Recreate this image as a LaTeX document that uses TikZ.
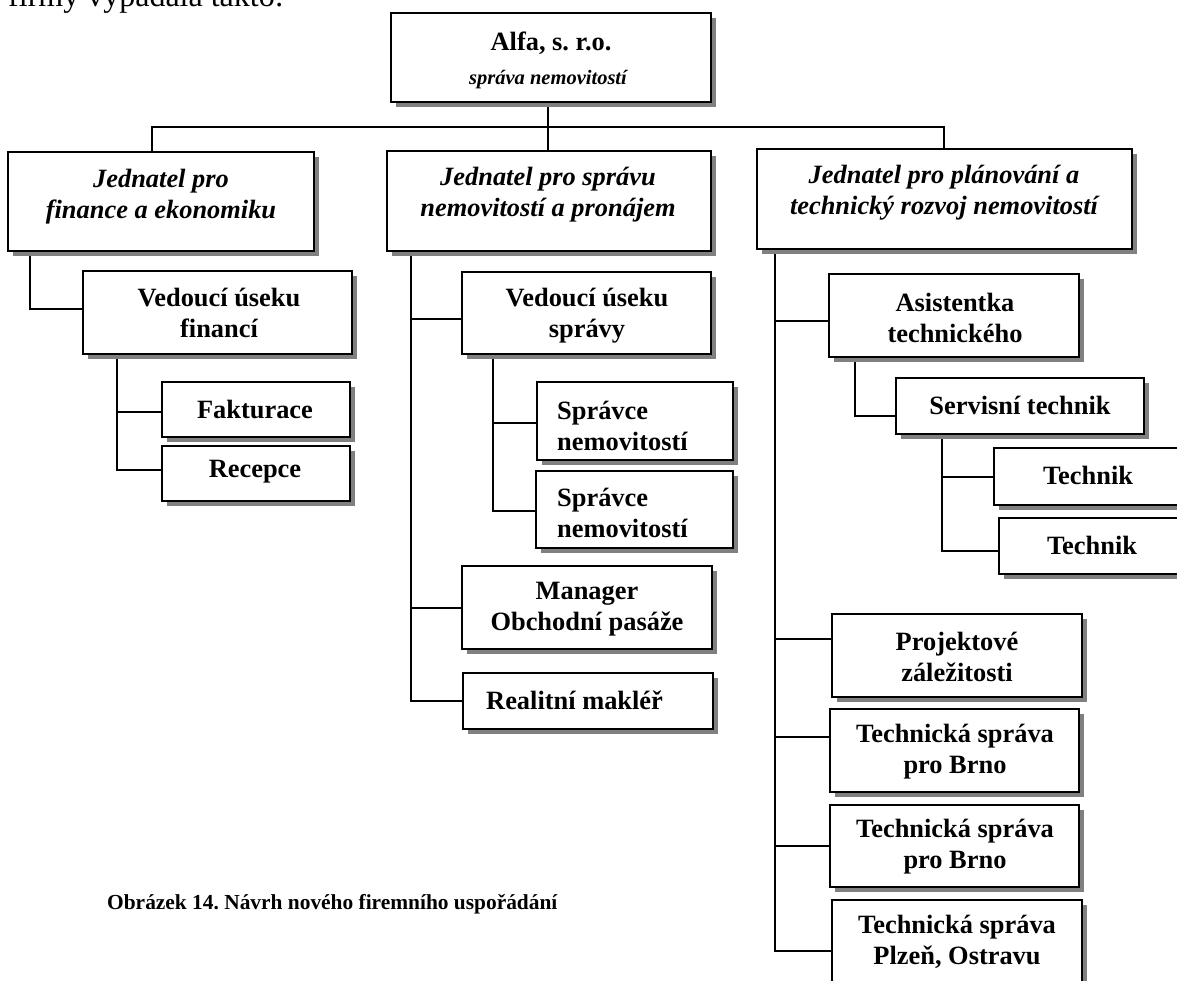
\documentclass[tikz,border=0pt]{standalone}
\usepackage{fontspec}
\setmainfont{Liberation Serif}
\usetikzlibrary{shadows}
\pgfdeclarelayer{bg}
\pgfsetlayers{bg,main}
\tikzset{
  box/.style={draw=black, line width=2pt, fill=white, rectangle, inner sep=0pt,
    general shadow={fill=black!50, shadow xshift=5pt, shadow yshift=-5pt}},
  txt/.style={inner sep=0pt, align=center, font=\fontsize{26.4}{31}\selectfont\bfseries},
  itxt/.style={inner sep=0pt, align=center, font=\fontsize{26.4}{31}\selectfont\bfseries\itshape},
  ltxt/.style={inner sep=0pt, align=left, anchor=west, font=\fontsize{26.4}{31}\selectfont\bfseries},
  link/.style={draw=black, line width=2pt},
}
\newcommand\orgbox[5]{\node[box, minimum width={(#4)-(#2)}, minimum height={(#5)-(#3)}] (#1) at ({((#2)+(#4))/2},{((#3)+(#5))/2}) {};}
\begin{document}
\frenchspacing
\begin{tikzpicture}[x=1pt,y=-1pt]
\useasboundingbox (0,0) rectangle (1177,981);
\node[anchor=base west, inner sep=0pt, font=\fontsize{32}{38}\selectfont] (intro) at (8,7) {firmy vypadala takto:};

% boxes
\orgbox{alfa}{391}{13}{711}{102}
\node[txt] (alfa-t1) at (551,43) {Alfa, s. r.o.};
\node[inner sep=0pt, font=\fontsize{20.5}{24}\selectfont\bfseries\itshape] (alfa-t2) at (548,80) {správa nemovitostí};

\orgbox{j1}{8}{152}{314}{251}
\node[itxt] (j1-t) at (161,197) {Jednatel pro\\finance a ekonomiku};
\orgbox{j2}{387}{151}{711}{251}
\node[itxt] (j2-t) at (548,195) {Jednatel pro správu\\nemovitostí a pronájem};
\orgbox{j3}{757}{149}{1132}{249}
\node[itxt] (j3-t) at (944,192.5) {Jednatel pro plánování a\\technický rozvoj nemovitostí};

\orgbox{vf}{83}{271}{352}{354}
\node[txt] (vf-t) at (219,312.5) {Vedoucí úseku\\financí};
\orgbox{fakt}{162}{382}{350}{437}
\node[txt] (fakt-t) at (255,410) {Fakturace};
\orgbox{rec}{162}{446}{350}{501}
\node[txt] (rec-t) at (255,472) {Recepce};

\orgbox{vs}{462}{272}{711}{354}
\node[txt] (vs-t) at (587,315.5) {Vedoucí úseku\\správy};
\orgbox{sn1}{537}{382}{733}{460}
\node[ltxt] (sn1-t) at (557,425.5) {Správce\\nemovitostí};
\orgbox{sn2}{536}{471}{733}{548}
\node[ltxt] (sn2-t) at (557,513) {Správce\\nemovitostí};
\orgbox{man}{462}{566}{712}{649}
\node[txt] (man-t) at (587,609) {Manager\\Obchodní pasáže};
\orgbox{real}{463}{673}{713}{729}
\node[ltxt] (real-t) at (486,700) {Realitní makléř};

\orgbox{at}{829}{274}{1079}{357}
\node[txt] (at-t) at (955,317.5) {Asistentka\\technického};
\orgbox{st}{896}{378}{1144}{434}
\node[txt] (st-t) at (1020,405) {Servisní technik};
\orgbox{t1}{994}{448}{1181}{505}
\node[txt] (t1-t) at (1088,475) {Technik};
\orgbox{t2}{999}{518}{1185}{574}
\node[txt] (t2-t) at (1092,545) {Technik};
\orgbox{proj}{832}{614}{1082}{697}
\node[txt] (proj-t) at (957,657) {Projektové\\záležitosti};
\orgbox{tsb1}{830}{709}{1079}{792}
\node[txt] (tsb1-t) at (955,751.5) {Technická správa\\pro Brno};
\orgbox{tsb2}{830}{805}{1079}{887}
\node[txt] (tsb2-t) at (955,847) {Technická správa\\pro Brno};
\orgbox{tsp}{832}{900}{1082}{985}
\node[txt] (tsp-t) at (957,942) {Technická správa\\Plzeň, Ostravu};

\node[anchor=base west, inner sep=0pt, font=\fontsize{21.4}{26}\selectfont\bfseries] (cap) at (107,909) {Obrázek 14. Návrh nového firemního uspořádání};

% connectors
\coordinate (t0) at (548,0);
\coordinate (bus1) at (152,127);
\coordinate (bus3) at (944,127);
\coordinate (k1) at (30,0);
\coordinate (k2) at (117,0);
\coordinate (k3) at (411,0);
\coordinate (k4) at (493,0);
\coordinate (k5) at (775,0);
\coordinate (k6) at (855,0);
\coordinate (k7) at (942,0);
\begin{pgfonlayer}{bg}
\draw[link] (alfa.south -| t0) -- (j2.north -| t0);
\draw[link] (j1.north -| bus1) -- (bus1) -- (bus3) -- (j3.north -| bus3);
\draw[link] (j1.south -| k1) |- ([yshift=3.5pt]vf.west);
\draw[link] (vf.south -| k2) |- ([yshift=-2.5pt]fakt.west);
\draw[link] (vf.south -| k2) |- ([yshift=3.5pt]rec.west);
\draw[link] (j2.south -| k3) |- ([yshift=-6pt]vs.west);
\draw[link] (j2.south -| k3) |- (man.west);
\draw[link] (j2.south -| k3) |- (real.west);
\draw[link] (vs.south -| k4) |- ([yshift=-2pt]sn1.west);
\draw[link] (vs.south -| k4) |- ([yshift=-1.5pt]sn2.west);
\draw[link] (j3.south -| k5) |- ([yshift=-5.5pt]at.west);
\draw[link] (j3.south -| k5) |- ([yshift=16.5pt]proj.west);
\draw[link] (j3.south -| k5) |- ([yshift=13.5pt]tsb1.west);
\draw[link] (j3.south -| k5) |- (tsb2.west);
\draw[link] (j3.south -| k5) |- ([yshift=-8.5pt]tsp.west);
\draw[link] (at.south -| k6) |- ([yshift=-10pt]st.west);
\draw[link] (st.south -| k7) |- (t1.west);
\draw[link] (st.south -| k7) |- ([yshift=-5pt]t2.west);
\end{pgfonlayer}
\end{tikzpicture}
\end{document}
